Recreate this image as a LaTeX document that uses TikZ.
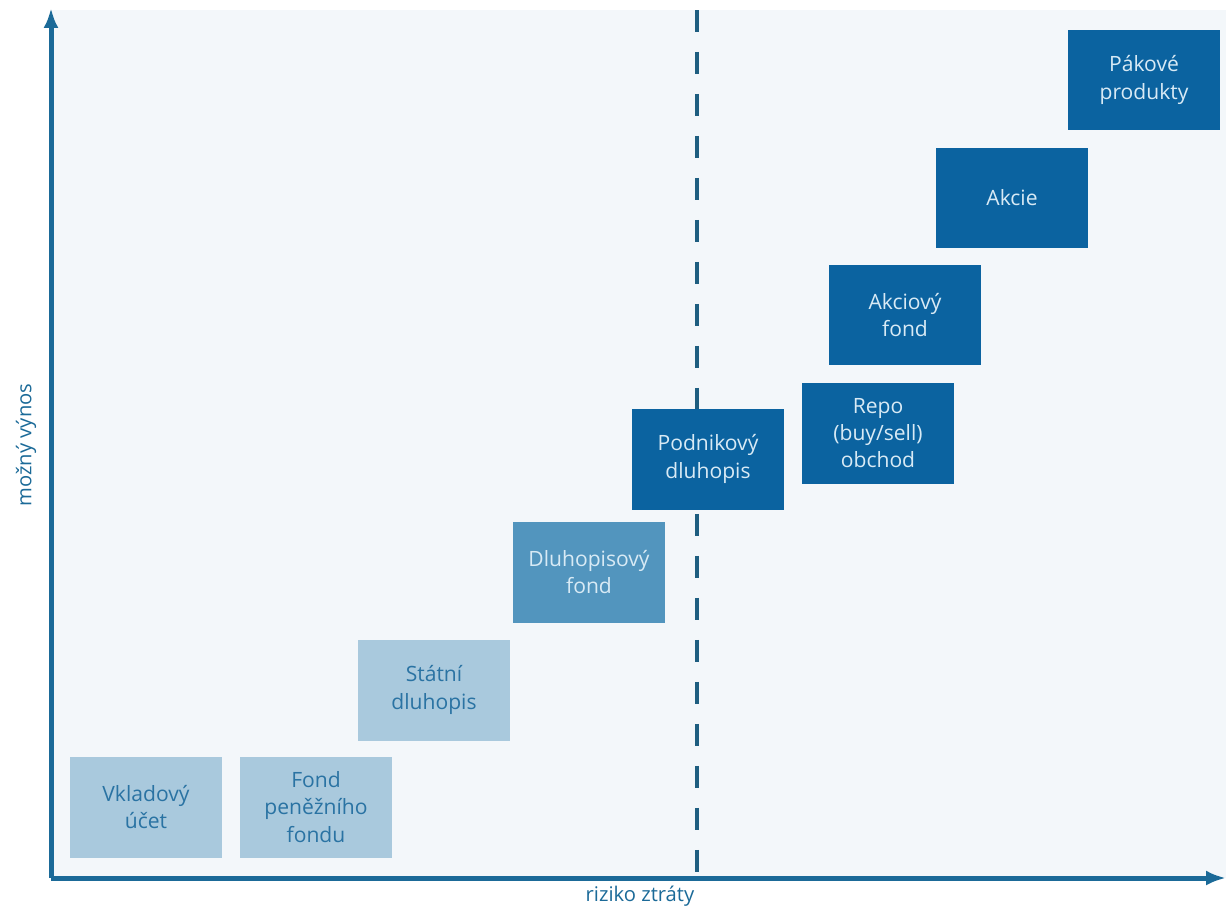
\documentclass[tikz,border=0pt]{standalone}
\usepackage{fontspec}
\setmainfont{Open Sans}
\usetikzlibrary{arrows.meta}
\definecolor{plotbg}{HTML}{F3F7FA}
\definecolor{axisblue}{HTML}{1B6A98}
\definecolor{splitblue}{HTML}{1E5E80}
\definecolor{boxlight}{HTML}{A9C9DD}
\definecolor{textlight}{HTML}{2A73A3}
\definecolor{boxmid}{HTML}{5295BE}
\definecolor{boxdark}{HTML}{0B63A0}
\definecolor{textdark}{HTML}{D8EAF5}
\begin{document}
\begin{tikzpicture}[x=0.02cm, y=-0.02cm, >={Latex[length=0.4cm,width=0.3cm]}]
        \tikzset{%
         every product/.style={
            rectangle,
            minimum width=3.04cm,
            minimum height=2.02cm,
            align=center,
            font=\fontsize{12}{15.5}\selectfont},
        product low/.style={
            fill=boxlight,
            text=textlight},
        product mid/.style={
            fill=boxmid,
            text=textdark},
        product high/.style={
            fill=boxdark,
            text=textdark},
        axis line/.style={
            draw=axisblue,
            line width=0.1cm},
        axis label/.style={
            text=axisblue,
            font=\fontsize{11.5}{14}\selectfont},
        }

        \useasboundingbox (0,0) rectangle (1226,910);
        \fill [plotbg] (51,10) rectangle (1226,878);

        \coordinate (origin) at (51,878);
        \coordinate (y-end) at (51,8);
        \coordinate (x-end) at (1226,878);
        \coordinate (split-top) at (697,10);
        \coordinate (split-bottom) at (697,878);

        \draw [draw=splitblue, line width=0.09cm, dash pattern=on 0.44cm off 0.40cm]
            (split-top) -- (split-bottom);

        \foreach \n/\lvl/\x/\y/\t in {
            vklad/low/146/807/{Vkladový\\účet},
            penezni/low/316/807/{Fond\\peněžního\\fondu},
            statni/low/434/690/{Státní\\dluhopis},
            dlfond/mid/589/572/{Dluhopisový\\fond},
            podnik/high/708/459/{Podnikový\\dluhopis},
            repo/high/878/433/{Repo\\(buy/sell)\\obchod},
            akcfond/high/905/315/{Akciový\\fond},
            akcie/high/1012/198/{Akcie},
            pakove/high/1144/80/{Pákové\\produkty}}
        {
            \node [every product/.try, product \lvl/.try] (\n) at (\x,\y) {\t};
        }

        \draw [axis line, ->] (origin) -- (y-end);
        \draw [axis line, ->] (origin) -- (x-end);

        \node [axis label] (x-label) at (640,896) {riziko ztráty};
        \node [axis label, rotate=90] (y-label) at (26,445) {možný výnos};
    \end{tikzpicture}
\end{document}
